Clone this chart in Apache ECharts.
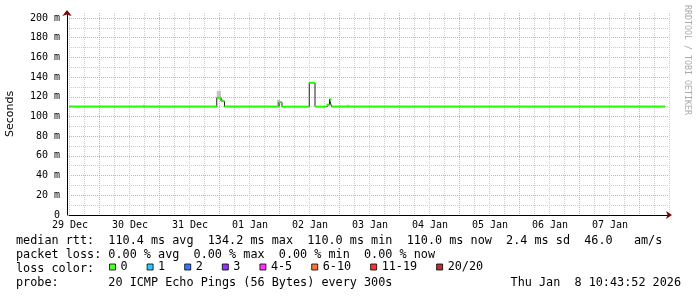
<!DOCTYPE html>
<html><head><meta charset="utf-8">
<script src="https://cdn.jsdelivr.net/npm/echarts@6/dist/echarts.min.js"></script>
<style>html,body{margin:0;padding:0;background:#fff}#c{width:697px;height:297px}</style>
</head><body><div id="c"></div>
<script>
// x values are hours since 29 Dec 00:00
const dayLabels = ['29 Dec','30 Dec','31 Dec','01 Jan','02 Jan','03 Jan','04 Jan','05 Jan','06 Jan','07 Jan'];
const medianTimes = [0, 59.1, 60.8, 62.2, 84.0, 85.2, 96.1, 98.4, 103.0, 104.2, 105.0, 238.4];
const medianRtt   = [110, 119, 115.5, 110, 114.5, 110, 134.2, 110, 112, 117.5, 110, 110];
const smokeTimes  = [0, 29.6, 30.4, 59.1, 60.8, 61.6, 83.2, 84.4, 111.2, 112.0, 238.4];
const smokeMin    = [110, 110, 110, 119, 115.5, 110, 110, 110, 110, 110, 110];
const smokeMax    = [110, 112, 110, 126, 118, 110, 117, 110, 112, 110, 110];
const rttValues = [110.4, 134.2, 110.0, 110.0, 2.4];
const rttLabels = ['avg', 'max', 'min', 'now', 'sd'];
const amValue = 46.0;
const lossValues = [0, 0, 0, 0];
const lossLabels = ['avg', 'max', 'min', 'now'];
const lossNames  = ['0', '1', '2', '3', '4-5', '6-10', '11-19', '20/20'];
const lossColors = ['#26ff00', '#00b8ff', '#0059ff', '#7e00ff', '#ff00ff', '#ff5500', '#ff0000', '#a10000'];
const probeText = '20 ICMP Echo Pings (56 Bytes) every 300s';
const stampText = 'Thu Jan  8 10:43:52 2026';

const MONO = "'DejaVu Sans Mono', monospace";
const LEG = "11.8px 'DejaVu Sans Mono', monospace";
const GRAY = '#cccccc', RED = '#eba3a3';

const row1 = 'median rtt:  ' + rttValues.map((v, i) => v.toFixed(1) + ' ms ' + rttLabels[i]).join('  ') + '  ' + amValue.toFixed(1) + '   am/s';
const row2 = 'packet loss: ' + lossValues.map((v, i) => v.toFixed(2) + ' % ' + lossLabels[i]).join('  ');

const band = 1;
const bandData = [];
for (let i = 0; i < medianTimes.length - 1; i++) bandData.push([medianTimes[i], medianTimes[i + 1], medianRtt[i] - band, medianRtt[i] + band]);
const smokeData = [];
for (let i = 0; i < smokeTimes.length - 1; i++) if (smokeMax[i] > smokeMin[i]) smokeData.push([smokeTimes[i], smokeTimes[i + 1], smokeMin[i], smokeMax[i]]);

function rectItem(fill) {
  return function (params, api) {
    const p1 = api.coord([api.value(0), api.value(3)]);
    const p2 = api.coord([api.value(1), api.value(2)]);
    return {type: 'rect', shape: {x: p1[0], y: p1[1], width: p2[0] - p1[0], height: p2[1] - p1[1]}, style: {fill: fill}};
  };
}

const chart = echarts.init(document.getElementById('c'), null, {renderer: 'canvas'});
const series = [
  {type: 'custom', data: smokeData, encode: {x: [0, 1], y: [2, 3]}, renderItem: rectItem('#c4c4c4'), silent: true, z: 2},
  {type: 'line', data: medianTimes.map((t, i) => [t, medianRtt[i]]), step: 'end', symbol: 'none', lineStyle: {color: '#202020', width: 1}, silent: true, z: 3},
  {type: 'custom', data: bandData, encode: {x: [0, 1], y: [2, 3]}, renderItem: rectItem(lossColors[0]), silent: true, z: 4}
];
lossNames.forEach((n, i) => series.push({type: 'scatter', name: n, data: [], color: lossColors[i], itemStyle: {color: lossColors[i]}}));

chart.setOption({
  animation: false,
  backgroundColor: '#ffffff',
  textStyle: {fontFamily: MONO},
  grid: {left: 69, right: 28, top: 13, bottom: 82, outerBoundsMode: 'none', containLabel: false},
  xAxis: [{
    type: 'value', min: 0, max: 240, interval: 6, position: 'bottom',
    axisLine: {show: true, onZero: false, lineStyle: {color: '#000', width: 1}},
    axisTick: {show: false},
    axisLabel: {show: true, margin: 5, color: '#000', fontFamily: MONO, fontSize: 10, padding: [0, 0, 0, 2],
      formatter: v => (v % 24 === 0 && dayLabels[v / 24]) ? dayLabels[v / 24] : ''},
    splitLine: {show: true, lineStyle: {color: [GRAY, GRAY, RED, GRAY], width: 1, type: [1, 1]}}
  }, {
    type: 'value', min: 0, max: 240, position: 'bottom',
    axisLine: {show: true, onZero: false, symbol: ['none', 'arrow'], symbolSize: [6, 6], symbolOffset: [0, 3], lineStyle: {color: '#7f0000', width: 0}},
    axisTick: {show: false}, axisLabel: {show: false}, splitLine: {show: false}
  }],
  yAxis: [{
    type: 'value', min: 0, max: 205, interval: 10, position: 'left', offset: 2,
    name: 'Seconds', nameLocation: 'middle', nameRotate: 90, nameGap: 51,
    nameTextStyle: {fontFamily: "'DejaVu Sans', sans-serif", fontSize: 11, color: '#000'},
    axisLine: {show: true, onZero: false, lineStyle: {color: '#000', width: 1}},
    axisTick: {show: false},
    axisLabel: {show: true, margin: 7, color: '#000', fontFamily: MONO, fontSize: 10, showMaxLabel: false,
      formatter: v => v === 0 ? '0' : (v % 20 === 0 ? v + ' m' : '')},
    splitLine: {show: true, showMaxLine: false, lineStyle: {color: [RED, GRAY], width: 1, type: [1, 1]}}
  }, {
    type: 'value', min: 0, max: 205, position: 'left', offset: 2,
    axisLine: {show: true, onZero: false, symbol: ['none', 'arrow'], symbolSize: [7, 6], symbolOffset: [0, 3], lineStyle: {color: '#7f0000', width: 0}},
    axisTick: {show: false}, axisLabel: {show: false}, splitLine: {show: false}
  }],
  legend: {
    data: lossNames, left: 109, top: 261, orient: 'horizontal', padding: 0,
    icon: 'rect', itemWidth: 6, itemHeight: 6, itemGap: 19, selectedMode: false,
    itemStyle: {borderColor: '#000', borderWidth: 1},
    textStyle: {fontFamily: MONO, fontSize: 11.8, color: '#000'}
  },
  graphic: [
    {type: 'text', x: 16, y: 241, style: {text: row1, font: LEG, fill: '#000', verticalAlign: 'middle'}},
    {type: 'text', x: 16, y: 255, style: {text: row2, font: LEG, fill: '#000', verticalAlign: 'middle'}},
    {type: 'text', x: 16, y: 268.5, style: {text: 'loss color:', font: LEG, fill: '#000', verticalAlign: 'middle'}},
    {type: 'text', x: 16, y: 282.5, style: {text: 'probe:       ' + probeText, font: LEG, fill: '#000', verticalAlign: 'middle'}},
    {type: 'text', x: 681, y: 282.5, style: {text: stampText, font: LEG, fill: '#000', align: 'right', verticalAlign: 'middle'}},
    {type: 'text', x: 687, y: 60, rotation: -Math.PI / 2, style: {text: 'RRDTOOL / TOBI OETIKER', font: "8.3px 'DejaVu Sans Mono', monospace", fill: '#aaaaaa', align: 'center', verticalAlign: 'middle'}}
  ],
  series: series
});
</script></body></html>
